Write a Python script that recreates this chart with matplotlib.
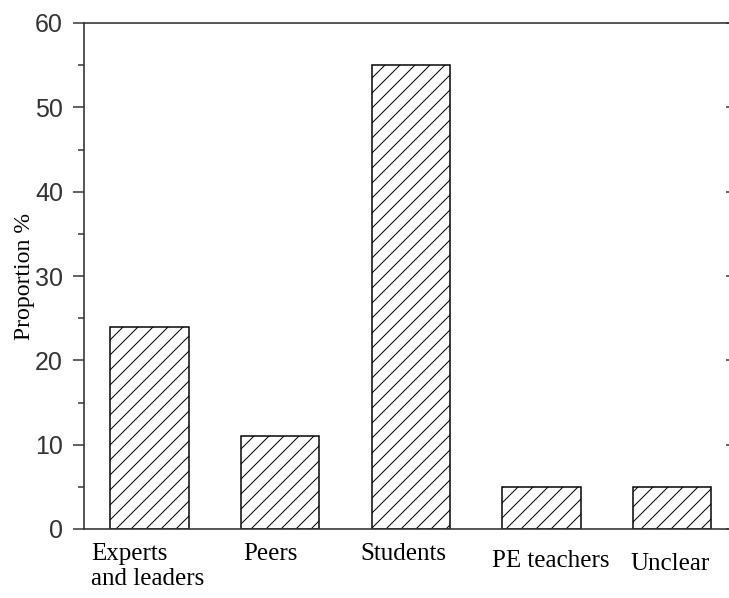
import matplotlib
matplotlib.use("Agg")
import matplotlib.pyplot as plt
from matplotlib.transforms import ScaledTranslation
from matplotlib.ticker import MultipleLocator

categories = ["Experts\nand leaders", "Peers", "Students", "PE teachers", "Unclear"]
values = [24, 11, 55, 5, 5]
y_ticks = [0, 10, 20, 30, 40, 50, 60]

DPI = 90
fig = plt.figure(figsize=(729 / DPI, 598 / DPI), dpi=DPI)
ax = fig.add_axes([84 / 729, 1 - 529 / 598, (737.5 - 84) / 729, (529 - 23) / 598])

plt.rcParams['hatch.linewidth'] = 0.8
x = list(range(len(categories)))
ax.bar(x, values, width=0.6, color="white", edgecolor="black", linewidth=1.2, hatch="//")

ax.set_xlim(-0.5, 4.5)
ax.set_ylim(0, 60)
ax.set_yticks(y_ticks)
ax.yaxis.set_minor_locator(MultipleLocator(5))
ax.set_xticks(x)
ax.set_xticklabels(categories, family="Liberation Serif", fontsize=20, multialignment="left")

for s in ax.spines.values():
    s.set_linewidth(1.3)
    s.set_color("#333333")

ax.tick_params(axis="y", which="major", direction="out", length=8.8, width=1.2, color="#333333",
               pad=8, labelsize=20, labelcolor="#333333")
ax.tick_params(axis="y", which="minor", direction="out", length=4.8, width=1.2, color="#333333")
ax.tick_params(axis="y", which="both", right=False)
for lab in ax.get_yticklabels():
    lab.set_family("Liberation Sans")
ax.tick_params(axis="x", length=0, pad=11)

# right-side inward major ticks
ax2 = ax.twinx()
ax2.set_ylim(0, 60)
ax2.set_yticks(y_ticks)
ax2.tick_params(axis="y", direction="in", length=8.8, width=1.2, color="#333333", labelright=False)
for s in ax2.spines.values():
    s.set_visible(False)

ax.set_ylabel("Proportion %", family="Liberation Serif", fontsize=19, labelpad=0)

offsets = [(-2, 0), (-9.5, 0), (-7, 0), (9.5, -7), (-2, -10)]
for lab, (dx, dy) in zip(ax.get_xticklabels(), offsets):
    lab.set_transform(lab.get_transform() + ScaledTranslation(dx / DPI, dy / DPI, fig.dpi_scale_trans))

fig.savefig("out.png", dpi=DPI)
